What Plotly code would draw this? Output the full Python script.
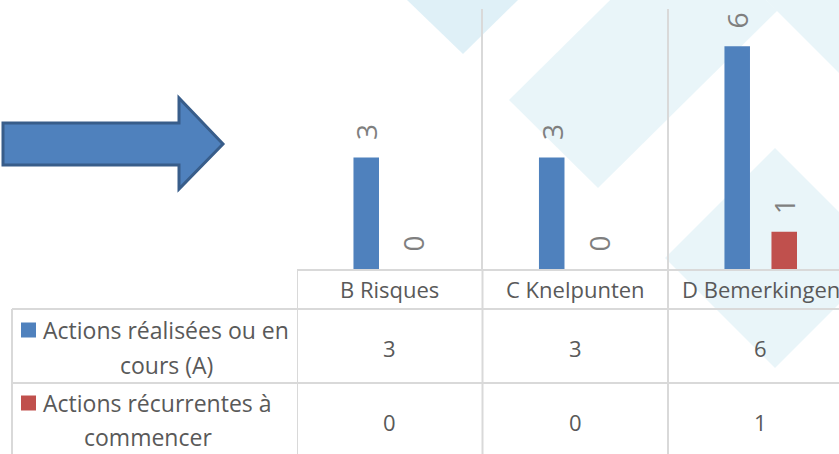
import plotly.graph_objects as go

# ---------------- data ----------------
categories = ["B Risques", "C Knelpunten", "D Bemerkingen"]
series_names = ["Actions réalisées ou en cours (A)", "Actions récurrentes à commencer"]
series_label_lines = [["Actions réalisées ou en", "cours (A)"], ["Actions récurrentes à", "commencer"]]
actions_realisees = [3, 3, 6]
actions_recurrentes = [0, 0, 1]
series_values = [actions_realisees, actions_recurrentes]
series_colors = ["#4F81BD", "#C0504D"]

# ---------------- geometry helpers (pixel -> paper) ----------------
W, H = 839, 454
L, R, T, B = 297, 0, 9, 185
PW, PH = W - L - R, H - T - B
def px(x):
    return (x - L) / PW
def py(y):
    return (H - B - y) / PH

FONT = "Open Sans"
GRID = "#D9D9D9"
TXT = "#595959"

fig = go.Figure()
for name, vals, color in zip(series_names, series_values, series_colors):
    fig.add_bar(
        x=categories, y=vals, name=name, marker_color=color,
        marker_line_width=0,
        texttemplate="\u00a0\u00a0%{y}", textposition="outside", textangle=-90,
        textfont=dict(family=FONT, size=28, color="#7F7F7F"),
        cliponaxis=False, constraintext="none",
    )

shapes = []
# background watermark diamonds
def poly(pts, color):
    d = "M " + " L ".join(f"{px(a):.5f},{py(b):.5f}" for a, b in pts) + " Z"
    return dict(type="path", path=d, xref="paper", yref="paper",
                fillcolor=color, line=dict(width=0), layer="below")
light = "rgba(140,200,225,0.19)"
shapes.append(poly([(407, 0), (463, 54), (518, 0), (463, -55)], "rgba(140,200,225,0.28)"))
shapes.append(poly([(509, 100), (598, 188), (777, 11), (688, -77)], light))
shapes.append(poly([(700, -66), (900, 134), (1000, 34), (800, -166)], light))
shapes.append(poly([(775, 148), (665, 258), (775, 368), (885, 258)], light))

# arrow
arrow = [(3, 123), (179, 123), (179, 98), (223, 144), (179, 189), (179, 165), (3, 165)]
d = "M " + " L ".join(f"{px(a):.5f},{py(b):.5f}" for a, b in arrow) + " Z"
shapes.append(dict(type="path", path=d, xref="paper", yref="paper",
                   fillcolor="#4F81BD", line=dict(color="#385D8A", width=3)))

# table lines
n = len(categories)
for i in range(n + 1):
    shapes.append(dict(type="line", xref="x", yref="paper", x0=i - 0.5, x1=i - 0.5,
                       y0=py(269), y1=py(460), line=dict(color=GRID, width=2)))
shapes.append(dict(type="line", xref="paper", yref="paper", x0=px(12), x1=px(12),
                   y0=py(309), y1=py(460), line=dict(color=GRID, width=2)))
for yy in (309, 383):
    shapes.append(dict(type="line", xref="paper", yref="paper", x0=px(12), x1=1.05,
                       y0=py(yy), y1=py(yy), line=dict(color=GRID, width=2)))

annotations = []
# header
for c in categories:
    annotations.append(dict(x=c, y=py(289), xref="x", yref="paper", text=c, showarrow=False,
                            font=dict(family=FONT, size=22, color=TXT), xanchor="center", yanchor="middle"))
# values
row_centers = [348, 422]
for vals, yc in zip(series_values, row_centers):
    for c, v in zip(categories, vals):
        annotations.append(dict(x=c, y=py(yc), xref="x", yref="paper", text=str(v), showarrow=False,
                                font=dict(family=FONT, size=22, color=TXT), xanchor="center", yanchor="middle"))
# row labels + legend keys
label_lines_y = [(330, 365), (403, 437)]
label_x = [166, 157]
line2_x = [166, 148]
for lines, ys, color, lx, l2x in zip(series_label_lines, label_lines_y, series_colors, label_x, line2_x):
    annotations.append(dict(x=px(lx), y=py(ys[0]), xref="paper", yref="paper", text=lines[0], showarrow=False,
                            font=dict(family=FONT, size=23, color=TXT), xanchor="center", yanchor="middle"))
    annotations.append(dict(x=px(l2x), y=py(ys[1]), xref="paper", yref="paper", text=lines[1], showarrow=False,
                            font=dict(family=FONT, size=23, color=TXT), xanchor="center", yanchor="middle"))
    shapes.append(dict(type="rect", xref="paper", yref="paper", x0=px(21), x1=px(36),
                       y0=py(ys[0] - 7.5), y1=py(ys[0] + 7.5), fillcolor=color, line=dict(width=0)))

fig.update_layout(
    width=W, height=H, margin=dict(l=L, r=R, t=T, b=B, pad=0),
    paper_bgcolor="white", plot_bgcolor="rgba(0,0,0,0)",
    showlegend=False, bargap=0.493, bargroupgap=0.457,
    xaxis=dict(type="category", range=[-0.5, 2.422], tickson="boundaries",
               showgrid=True, gridcolor=GRID, gridwidth=2, showticklabels=False, ticks="",
               showline=True, linecolor=GRID, linewidth=2, zeroline=False, fixedrange=True),
    yaxis=dict(range=[0, 7], visible=False, fixedrange=True),
    shapes=shapes, annotations=annotations,
    font=dict(family=FONT, color=TXT),
)

fig.write_html("out.html", config={"displayModeBar": False},
               post_script="document.body.style.margin='0';document.body.style.overflow='hidden';")
